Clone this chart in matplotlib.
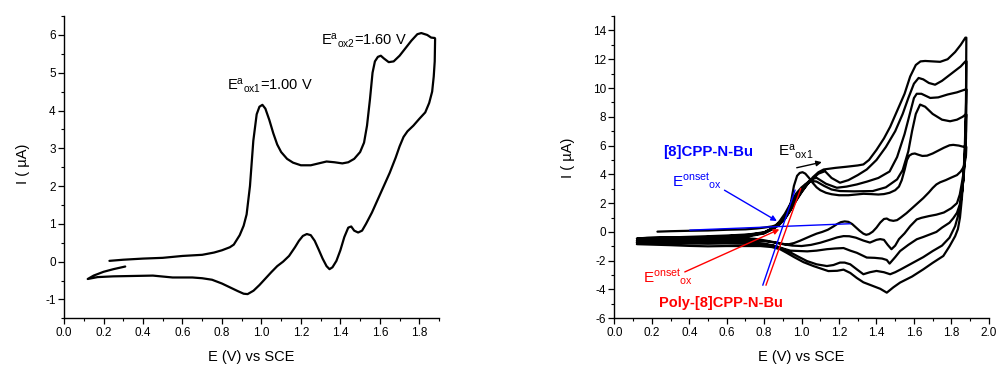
import matplotlib
matplotlib.use('Agg')
import matplotlib.pyplot as plt
from matplotlib.ticker import MultipleLocator

plt.rcParams['font.family'] = ['Liberation Sans', 'DejaVu Sans']
plt.rcParams['mathtext.fontset'] = 'custom'
plt.rcParams['mathtext.rm'] = 'Liberation Sans'
plt.rcParams['mathtext.it'] = 'Liberation Sans:italic'
plt.rcParams['mathtext.bf'] = 'Liberation Sans:bold'
plt.rcParams['axes.unicode_minus'] = False

# ---------------- data: cycle 1 (left panel, also first scan of right panel)
fwd1_E = [0.23, 0.30, 0.40, 0.50, 0.60, 0.70, 0.76, 0.80, 0.84, 0.86, 0.89, 0.91, 0.925, 0.942, 0.959,
          0.976, 0.99, 1.005, 1.02, 1.04, 1.06, 1.08, 1.10, 1.13, 1.16, 1.20, 1.25, 1.29, 1.33, 1.37,
          1.41, 1.44, 1.47, 1.50, 1.52, 1.535, 1.55, 1.563, 1.575, 1.59, 1.605, 1.62, 1.645, 1.67,
          1.70, 1.73, 1.76, 1.79, 1.81, 1.84, 1.86, 1.878]
fwd1_I = [0.02, 0.05, 0.08, 0.10, 0.15, 0.18, 0.24, 0.30, 0.38, 0.45, 0.70, 0.95, 1.25, 2.0, 3.2,
          3.9, 4.1, 4.15, 4.05, 3.75, 3.4, 3.1, 2.9, 2.72, 2.62, 2.55, 2.55, 2.6, 2.65, 2.63,
          2.6, 2.63, 2.72, 2.9, 3.15, 3.6, 4.3, 5.0, 5.3, 5.42, 5.45, 5.38, 5.28, 5.3,
          5.45, 5.65, 5.85, 6.02, 6.05, 6.0, 5.93, 5.92]
rev1_E = [1.88, 1.878, 1.873, 1.865, 1.85, 1.83, 1.80, 1.77, 1.74, 1.72, 1.70, 1.68, 1.65, 1.62,
          1.59, 1.56, 1.53, 1.51, 1.49, 1.47, 1.455, 1.44, 1.42, 1.40, 1.38, 1.36, 1.345, 1.33,
          1.31, 1.29, 1.27, 1.25, 1.23, 1.21, 1.19, 1.17, 1.14, 1.11, 1.08, 1.05, 1.02, 0.99,
          0.96, 0.93, 0.91, 0.88, 0.84, 0.80, 0.75, 0.70, 0.65, 0.55, 0.45, 0.35, 0.25, 0.17, 0.12]
rev1_I = [5.9, 5.3, 4.9, 4.5, 4.2, 3.95, 3.78, 3.6, 3.45, 3.3, 3.05, 2.75, 2.35, 2.0,
          1.65, 1.3, 1.0, 0.82, 0.77, 0.82, 0.93, 0.9, 0.65, 0.3, 0.02, -0.15, -0.2, -0.12,
          0.08, 0.32, 0.55, 0.7, 0.73, 0.68, 0.55, 0.38, 0.15, 0.0, -0.12, -0.28, -0.45, -0.62,
          -0.77, -0.86, -0.85, -0.78, -0.68, -0.58, -0.48, -0.44, -0.42, -0.42, -0.37, -0.38, -0.39, -0.41, -0.46]
tail1_E = [0.15, 0.20, 0.25, 0.31]
tail1_I = [-0.37, -0.27, -0.20, -0.13]

# ---------------- data: later scans (right panel)
fwd2_E = [0.12, 0.18, 0.30, 0.45, 0.60, 0.72, 0.80, 0.85, 0.88, 0.91, 0.94, 0.97, 1.00, 1.02, 1.05,
          1.08, 1.12, 1.16, 1.205, 1.28, 1.38, 1.45, 1.51, 1.54, 1.57, 1.59, 1.61, 1.633, 1.66,
          1.70, 1.75, 1.793, 1.83, 1.86, 1.875]
fwd2_I = [-0.46, -0.42, -0.38, -0.32, -0.25, -0.17, -0.02, 0.3, 0.7, 1.25, 1.95, 2.65, 3.1, 3.3, 3.55,
          3.5, 3.2, 2.95, 2.84, 2.82, 2.84, 3.1, 3.65, 4.3, 5.6, 7.0, 8.2, 8.85, 8.7,
          8.2, 7.8, 7.69, 7.8, 8.0, 8.15]
rev2_E = [1.88, 1.878, 1.872, 1.865, 1.856, 1.845, 1.83, 1.80, 1.76, 1.72, 1.68, 1.64, 1.615, 1.58,
          1.55, 1.52, 1.50, 1.48, 1.46, 1.44, 1.42, 1.40, 1.365, 1.33, 1.29, 1.255, 1.224, 1.19,
          1.15, 1.10, 1.05, 1.00, 0.95, 0.90, 0.85, 0.78, 0.70, 0.60, 0.50, 0.40, 0.30, 0.20, 0.12]
rev2_I = [8.15, 6.5, 5.0, 4.1, 3.4, 2.6, 2.0, 1.65, 1.35, 1.2, 1.1, 0.98, 0.87, 0.4,
          -0.1, -0.5, -0.95, -1.2, -0.9, -0.55, -0.5, -0.55, -0.74, -0.6, -0.4, -0.3, -0.29, -0.38,
          -0.55, -0.75, -0.9, -0.98, -0.95, -0.85, -0.72, -0.62, -0.58, -0.57, -0.58, -0.56, -0.55, -0.55, -0.6]

fwd3_E = [0.12, 0.18, 0.30, 0.45, 0.60, 0.72, 0.80, 0.85, 0.87, 0.90, 0.93, 0.96, 0.99, 1.02, 1.05,
          1.08, 1.13, 1.188, 1.24, 1.295, 1.35, 1.41, 1.47, 1.51, 1.55, 1.58, 1.60, 1.615, 1.64,
          1.687, 1.73, 1.78, 1.83, 1.875]
fwd3_I = [-0.6, -0.52, -0.45, -0.38, -0.3, -0.2, -0.05, 0.28, 0.45, 0.8, 1.4, 2.1, 2.8, 3.3, 3.65,
          3.76, 3.35, 3.07, 3.15, 3.3, 3.5, 3.75, 4.2, 5.2, 6.8, 8.3, 9.3, 9.6, 9.6,
          9.31, 9.35, 9.55, 9.7, 9.9]
rev3_E = [1.88, 1.878, 1.872, 1.865, 1.855, 1.845, 1.83, 1.81, 1.79, 1.75, 1.72, 1.68, 1.65, 1.615,
          1.57, 1.526, 1.50, 1.47, 1.455, 1.43, 1.39, 1.348, 1.295, 1.26, 1.224, 1.18, 1.135, 1.08,
          1.03, 0.99, 0.94, 0.90, 0.85, 0.78, 0.70, 0.60, 0.50, 0.40, 0.30, 0.20, 0.12]
rev3_I = [9.9, 7.0, 5.0, 3.7, 2.6, 1.9, 1.33, 0.95, 0.64, 0.3, 0.0, -0.2, -0.35, -0.51,
          -0.9, -1.33, -1.75, -2.2, -1.95, -1.85, -1.8, -1.78, -1.45, -1.3, -1.12, -1.15, -1.2, -1.3,
          -1.35, -1.33, -1.3, -1.15, -0.95, -0.78, -0.7, -0.68, -0.7, -0.68, -0.66, -0.66, -0.7]

fwd4_E = [0.12, 0.18, 0.30, 0.45, 0.60, 0.72, 0.80, 0.85, 0.88, 0.91, 0.94, 0.97, 1.00, 1.03, 1.06,
          1.09, 1.125, 1.16, 1.205, 1.25, 1.30, 1.348, 1.40, 1.45, 1.50, 1.54, 1.57, 1.60, 1.625,
          1.65, 1.68, 1.713, 1.75, 1.80, 1.85, 1.875]
fwd4_I = [-0.7, -0.6, -0.5, -0.43, -0.35, -0.25, -0.08, 0.25, 0.5, 0.9, 1.5, 2.2, 2.8, 3.3, 3.7,
          4.05, 4.22, 3.75, 3.42, 3.6, 3.95, 4.34, 5.0, 5.9, 7.0, 8.2, 9.3, 10.3, 10.7,
          10.6, 10.35, 10.23, 10.5, 11.0, 11.5, 11.85]
rev4_E = [1.88, 1.878, 1.872, 1.865, 1.855, 1.84, 1.82, 1.79, 1.75, 1.70, 1.65, 1.58, 1.53, 1.50,
          1.473, 1.44, 1.40, 1.365, 1.33, 1.295, 1.26, 1.23, 1.205, 1.17, 1.135, 1.08, 1.028, 0.98,
          0.93, 0.885, 0.84, 0.78, 0.70, 0.60, 0.50, 0.40, 0.30, 0.20, 0.12]
rev4_I = [11.85, 8.0, 5.5, 3.8, 2.5, 1.33, 0.4, -0.4, -0.95, -1.33, -1.75, -2.25, -2.6, -2.8,
          -2.94, -2.8, -2.71, -2.8, -2.94, -2.6, -2.25, -2.13, -2.13, -2.3, -2.37, -2.25, -2.02, -1.7,
          -1.35, -1.09, -0.92, -0.85, -0.82, -0.8, -0.82, -0.8, -0.78, -0.76, -0.75]

fwd5_E = [0.12, 0.18, 0.30, 0.45, 0.60, 0.72, 0.80, 0.85, 0.88, 0.91, 0.94, 0.97, 1.00, 1.03, 1.06,
          1.09, 1.118, 1.18, 1.24, 1.30, 1.33, 1.36, 1.40, 1.44, 1.473, 1.51, 1.55, 1.58, 1.61,
          1.635, 1.66, 1.70, 1.74, 1.78, 1.82, 1.85, 1.875]
fwd5_I = [-0.75, -0.65, -0.55, -0.48, -0.4, -0.3, -0.1, 0.22, 0.5, 0.9, 1.5, 2.15, 2.75, 3.3, 3.8,
          4.15, 4.34, 4.45, 4.53, 4.62, 4.69, 5.0, 5.7, 6.5, 7.3, 8.4, 9.6, 10.8, 11.6,
          11.85, 11.88, 11.85, 11.82, 12.0, 12.5, 13.0, 13.5]
rev5_E = [1.88, 1.878, 1.872, 1.865, 1.856, 1.846, 1.835, 1.82, 1.79, 1.757, 1.70, 1.65, 1.59, 1.526,
          1.49, 1.455, 1.42, 1.40, 1.33, 1.295, 1.26, 1.224, 1.19, 1.143, 1.063, 1.01, 0.96, 0.92,
          0.885, 0.84, 0.78, 0.70, 0.60, 0.50, 0.40, 0.30, 0.20, 0.12]
rev5_I = [13.5, 9.0, 6.0, 4.0, 2.3, 1.0, 0.2, -0.3, -1.0, -1.67, -2.15, -2.6, -3.1, -3.52,
          -3.85, -4.22, -3.95, -3.85, -3.5, -3.2, -2.85, -2.62, -2.7, -2.72, -2.37, -2.1, -1.75, -1.45,
          -1.2, -1.05, -0.98, -0.98, -0.98, -1.0, -0.97, -0.92, -0.88, -0.85]

# onset tangent lines (right panel)
blue_base_E = [0.404, 1.259]
blue_base_I = [0.127, 0.57]
blue_tan_E = [0.793, 0.965]
blue_tan_I = [-3.69, 2.9]
red_tan_E = [0.81, 0.995]
red_tan_I = [-3.69, 3.0]

# ---------------- figure
fig = plt.figure(figsize=(9.99, 3.65), dpi=100)
ax1 = fig.add_axes([0.0641, 0.128, 0.3754, 0.828])
ax2 = fig.add_axes([0.615, 0.128, 0.3748, 0.828])

lw = 1.6
line_kw = dict(color='black', lw=lw, solid_joinstyle='round', solid_capstyle='round')

ax1.plot(fwd1_E + rev1_E + tail1_E, fwd1_I + rev1_I + tail1_I, **line_kw)

allE = fwd1_E + rev1_E + fwd2_E + rev2_E + fwd3_E + rev3_E + fwd4_E + rev4_E + fwd5_E + rev5_E
allI = fwd1_I + rev1_I + fwd2_I + rev2_I + fwd3_I + rev3_I + fwd4_I + rev4_I + fwd5_I + rev5_I
ax2.plot(allE, allI, **line_kw)

ax2.plot(blue_base_E, blue_base_I, color='#0000ff', lw=1.0, zorder=3)
ax2.plot(blue_tan_E, blue_tan_I, color='#0000ff', lw=1.0, zorder=3)
ax2.plot(red_tan_E, red_tan_I, color='#ff0000', lw=1.0, zorder=3)

for ax in (ax1, ax2):
    for s in ('top', 'right'):
        ax.spines[s].set_visible(False)
    ax.spines['left'].set_linewidth(1.0)
    ax.spines['bottom'].set_linewidth(1.0)
    ax.tick_params(which='major', direction='out', length=4, width=0.9, labelsize=8.5, pad=2)
    ax.tick_params(which='minor', direction='out', length=2.3, width=0.8)
    ax.set_xlabel('E (V) vs SCE', fontsize=10.5, va='center')
    ax.set_ylabel('I ( µA)', fontsize=10.5, va='center')

ax1.set_xlim(0, 1.9)
ax1.set_ylim(-1.5, 6.5)
ax1.xaxis.set_major_locator(MultipleLocator(0.2))
ax1.xaxis.set_minor_locator(MultipleLocator(0.1))
ax1.yaxis.set_major_locator(MultipleLocator(1))
ax1.yaxis.set_minor_locator(MultipleLocator(0.5))
ax1.xaxis.set_major_formatter(matplotlib.ticker.FormatStrFormatter('%.1f'))
ax1.xaxis.set_label_coords(0.5, -0.128)
ax1.yaxis.set_label_coords(-0.109, 0.51)

ax2.set_xlim(0, 2.0)
ax2.set_ylim(-6, 15)
ax2.xaxis.set_major_locator(MultipleLocator(0.2))
ax2.xaxis.set_minor_locator(MultipleLocator(0.1))
ax2.yaxis.set_major_locator(MultipleLocator(2))
ax2.yaxis.set_minor_locator(MultipleLocator(1))
ax2.xaxis.set_major_formatter(matplotlib.ticker.FormatStrFormatter('%.1f'))
ax2.xaxis.set_label_coords(0.5, -0.128)
ax2.yaxis.set_label_coords(-0.124, 0.53)

# annotations left
ax1.text(0.826, 4.55, r'E$^{\mathrm{a}}{}_{\mathrm{ox1}}$=1.00 V', fontsize=10.5, ha='left', va='baseline')
ax1.text(1.303, 5.74, r'E$^{\mathrm{a}}{}_{\mathrm{ox2}}$=1.60 V', fontsize=10.5, ha='left', va='baseline')

# annotations right
ax2.text(0.263, 5.31, '[8]CPP-N-Bu', color='#0000ff', fontsize=10.8, fontweight='bold', ha='left', va='baseline')
ax2.text(0.876, 5.26, r'E$^{\mathrm{a}}{}_{\mathrm{ox1}}$', color='black', fontsize=11, ha='left', va='baseline')
ax2.text(0.307, 3.18, r'E$^{\mathrm{onset}}{}_{\mathrm{ox}}$', color='#0000ff', fontsize=11, ha='left', va='baseline')
ax2.text(0.152, -3.52, r'E$^{\mathrm{onset}}{}_{\mathrm{ox}}$', color='#ff0000', fontsize=11, ha='left', va='baseline')
ax2.text(0.24, -5.25, 'Poly-[8]CPP-N-Bu', color='#ff0000', fontsize=10.5, fontweight='bold', ha='left', va='baseline')

arr = dict(arrowstyle='-|>', lw=1.0, mutation_scale=8, shrinkA=0, shrinkB=0)
ax2.annotate('', xy=(1.108, 4.85), xytext=(0.974, 4.46), arrowprops=dict(arr, color='black'))
ax2.annotate('', xy=(0.868, 0.76), xytext=(0.588, 2.9), arrowprops=dict(arr, color='#0000ff'))
ax2.annotate('', xy=(0.881, 0.18), xytext=(0.376, -2.78), arrowprops=dict(arr, color='#ff0000'))

fig.savefig('out.png', dpi=100)
